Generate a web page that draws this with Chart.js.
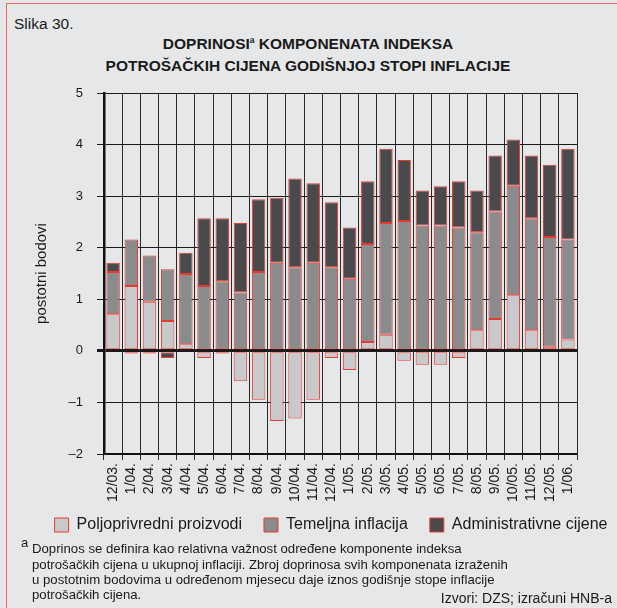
<!DOCTYPE html>
<html>
<head>
<meta charset="utf-8">
<script src="https://cdn.jsdelivr.net/npm/chart.js@4/dist/chart.umd.min.js"></script>
<style>
  html, body { margin:0; padding:0; background:#e6e7e9; overflow:hidden; }
  #wrap { position:relative; width:617px; height:608px; background:#e6e7e9; overflow:hidden;
          font-family:"Liberation Sans", Arial, Helvetica, sans-serif; color:#1a1a1a; }
  #frame { position:absolute; left:6px; top:3px; width:640px; height:640px;
           border-top:1.5px solid #ee6b64; border-left:1.5px solid #ee6b64; }
  #slika { position:absolute; left:14px; top:15px; font-size:15.5px; line-height:18px; white-space:nowrap; }
  #title { position:absolute; left:0; width:616px; top:33.5px; text-align:center; font-weight:bold;
           font-size:15.5px; line-height:19.4px; white-space:nowrap; }
  #title sup { font-size:8.5px; vertical-align:baseline; position:relative; top:-6px; }
  #chartbox { position:absolute; left:0; top:0; width:662px; height:550px; }
  #note { position:absolute; left:32px; top:541.4px; font-size:13.2px; line-height:15.2px; white-space:nowrap; }
  #note .a { position:absolute; left:-11px; top:-6.6px; font-size:13px; }
  #src { position:absolute; right:5px; top:591px; font-size:14px; line-height:15px; white-space:nowrap; }
</style>
</head>
<body>
<div id="wrap">
  <div id="frame"></div>
  <div id="slika">Slika 30.</div>
  <div id="title">DOPRINOSI<sup>a</sup> KOMPONENATA INDEKSA<br>POTROŠAČKIH CIJENA GODIŠNJOJ STOPI INFLACIJE</div>
  <div id="chartbox"><canvas id="c" width="662" height="550"></canvas></div>
  <div id="note"><span class="a">a</span>Doprinos se definira kao relativna važnost određene komponente indeksa<br>potrošačkih cijena u ukupnoj inflaciji. Zbroj doprinosa svih komponenata izraženih<br>u postotnim bodovima u određenom mjesecu daje iznos godišnje stope inflacije<br>potrošačkih cijena.</div>
  <div id="src">Izvori: DZS; izračuni HNB-a</div>
</div>
<script>
const categories = ['12/03.','1/04.','2/04.','3/04.','4/04.','5/04.','6/04.','7/04.','8/04.','9/04.','10/04.','11/04.','12/04.',
  '1/05.','2/05.','3/05.','4/05.','5/05.','6/05.','7/05.','8/05.','9/05.','10/05.','11/05.','12/05.','1/06.'];
const poljoprivredni = [0.71,1.26,0.95,0.58,0.13,-0.14,-0.05,-0.59,-0.95,-1.36,-1.31,-0.95,-0.14,
  -0.37,0.17,0.31,-0.19,-0.27,-0.27,-0.14,0.40,0.62,1.08,0.40,0.08,0.22];
const temeljna = [0.82,0.90,0.90,1.00,1.36,1.26,1.35,1.13,1.53,1.71,1.62,1.71,1.62,
  1.40,1.90,2.17,2.52,2.43,2.43,2.39,1.90,2.08,2.12,2.17,2.13,1.94];
const administrativne = [0.18,-0.05,-0.05,-0.14,0.41,1.31,1.22,1.35,1.41,1.26,1.72,1.54,1.26,
  0.99,1.22,1.44,1.18,0.68,0.76,0.90,0.81,1.09,0.90,1.22,1.40,1.76];
const yTicks = [-2,-1,0,1,2,3,4,5];

Chart.defaults.font.family = '"Liberation Sans", Arial, Helvetica, sans-serif';
Chart.defaults.color = '#1a1a1a';

const red = '#ea3a30';
const common = { borderColor: red, borderWidth: 1, borderSkipped: false,
                 categoryPercentage: 1.0, barPercentage: 0.74, yAxisID: 'y' };

// nudge the legend row up a little so it sits just under the rotated month labels
const legendNudge = {
  id: 'legendNudge',
  afterLayout(chart) {
    const l = chart.legend;
    if (l) { l.top -= 7; l.bottom -= 7; }
  }
};

new Chart(document.getElementById('c'), {
  type: 'bar',
  data: {
    labels: categories,
    datasets: [
      Object.assign({ label: 'Poljoprivredni proizvodi', data: poljoprivredni, backgroundColor: '#c8c9cb' }, common),
      Object.assign({ label: 'Temeljna inflacija', data: temeljna, backgroundColor: '#8a8b8d' }, common),
      Object.assign({ label: 'Administrativne cijene', data: administrativne, backgroundColor: '#4a4a4d' }, common)
    ]
  },
  plugins: [legendNudge],
  options: {
    responsive: false,
    animation: false,
    layout: { padding: { top: 93, left: 0, right: 0, bottom: 0 } },
    plugins: {
      tooltip: { enabled: false },
      legend: {
        position: 'bottom',
        labels: { boxWidth: 14, boxHeight: 14, padding: 22, font: { size: 16 }, color: '#1a1a1a' }
      }
    },
    scales: {
      x: {
        stacked: true,
        offset: true,
        grid: { offset: true, color: '#2a2a2a', lineWidth: 1, tickLength: 6, drawTicks: true },
        border: { display: true, color: '#111', width: 1.5 },
        ticks: { minRotation: 90, maxRotation: 90, autoSkip: false, font: { size: 14 }, padding: 3, color: '#1a1a1a' },
        afterFit: s => { s.height = 48; }
      },
      y: {
        stacked: true,
        position: 'left',
        min: -2, max: 5,
        afterBuildTicks: s => { s.ticks = yTicks.map(v => ({ value: v })); },
        grid: {
          color: '#1a1a1a',
          lineWidth: ctx => (ctx.tick && ctx.tick.value === 0) ? 3 : 1,
          tickLength: 7
        },
        border: { display: true, color: '#111', width: 2.5 },
        ticks: { font: { size: 13 }, padding: 14, color: '#1a1a1a',
                 callback: v => (v < 0 ? '\u2013' + Math.abs(v) : String(v)) },
        title: { display: true, text: 'postotni bodovi', font: { size: 15 }, padding: { top: 33, bottom: 0 }, color: '#1a1a1a' },
        afterFit: s => { s.width = 104; }
      },
      yRight: {
        position: 'right',
        min: -2, max: 5,
        grid: { display: false, drawTicks: false },
        border: { display: false },
        ticks: { display: false },
        afterFit: s => { s.width = 85; }
      }
    }
  }
});
</script>
</body>
</html>
